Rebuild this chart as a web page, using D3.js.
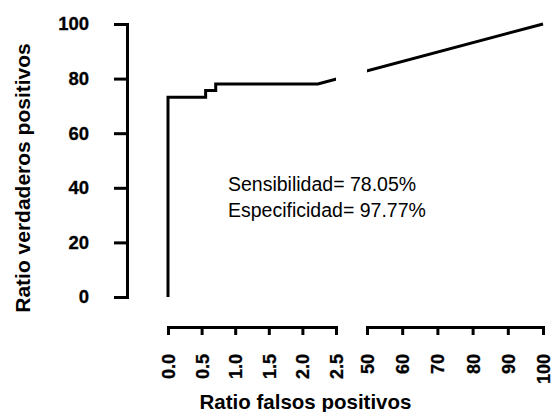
<!DOCTYPE html>
<html>
<head>
<meta charset="utf-8">
<script src="https://cdn.jsdelivr.net/npm/d3@7"></script>
<style>
  html, body { margin: 0; padding: 0; background: #fff; }
  svg { display: block; font-family: "Liberation Sans", Arial, Helvetica, sans-serif; }
  .axis path, .axis line { stroke: #000; stroke-width: 3; }
  .axis text { fill: #000; font-weight: bold; stroke: #000; stroke-width: 0.3px; }
</style>
</head>
<body>
<svg id="chart" width="553" height="412"></svg>
<script>
// ROC curve: false positive ratio (%) vs true positive ratio (%)
const fpr = [0, 0, 0.56, 0.56, 0.71, 0.71, 2.23, 100];
const tpr = [0, 73.17, 73.17, 75.61, 75.61, 78.05, 78.05, 100];

const yTicks = [0, 20, 40, 60, 80, 100];
const xTicksLow = [0, 0.5, 1.0, 1.5, 2.0, 2.5];
const xTicksHigh = [50, 60, 70, 80, 90, 100];

const annotations = ["Sensibilidad= 78.05%", "Especificidad= 97.77%"];

const svg = d3.select("#chart");

// Broken x axis: two linear pieces, [0, 2.5] and [50, 100]
const xLow = d3.scaleLinear().domain([0, 2.5]).range([168, 336]);
const xHigh = d3.scaleLinear().domain([50, 100]).range([367, 543]);
const x = d3.scaleLinear().domain([0, 2.5, 50, 100]).range([168, 336, 367, 543]);
const y = d3.scaleLinear().domain([0, 100]).range([297, 24]);

// Clip the curve so nothing is drawn inside the axis break
const clip = svg.append("defs").append("clipPath").attr("id", "breakClip");
clip.append("rect").attr("x", 0).attr("y", 0).attr("width", xLow(2.5)).attr("height", 412);
clip.append("rect").attr("x", xHigh(50)).attr("y", 0).attr("width", 553 - xHigh(50)).attr("height", 412);

// Y axis
const yAxis = d3.axisLeft(y).tickValues(yTicks).tickSize(13).tickSizeOuter(13).tickPadding(25);
const gy = svg.append("g").attr("class", "axis").attr("transform", "translate(127,0)").call(yAxis);
gy.selectAll("text").style("font-size", "18.5px");

// X axis, lower piece and upper piece
function styleX(g) {
  g.selectAll("text")
    .style("font-size", "18px")
    .attr("transform", "rotate(-90)")
    .attr("text-anchor", "end")
    .attr("x", -27)
    .attr("y", 0)
    .attr("dy", "0.36em");
}
const gx1 = svg.append("g").attr("class", "axis").attr("transform", "translate(0,327)")
  .call(d3.axisBottom(xLow).tickValues(xTicksLow).tickFormat(d3.format(".1f")).tickSize(8).tickSizeOuter(8));
styleX(gx1);
const gx2 = svg.append("g").attr("class", "axis").attr("transform", "translate(0,327)")
  .call(d3.axisBottom(xHigh).tickValues(xTicksHigh).tickFormat(d3.format("d")).tickSize(8).tickSizeOuter(8));
styleX(gx2);

// Curve
const line = d3.line().x((d, i) => x(fpr[i])).y((d, i) => y(tpr[i]));
svg.append("path")
  .datum(fpr)
  .attr("d", line)
  .attr("clip-path", "url(#breakClip)")
  .attr("fill", "none")
  .attr("stroke", "#000")
  .attr("stroke-width", 3)
  .attr("stroke-linejoin", "miter");

// Axis titles
svg.append("text")
  .attr("transform", "translate(30,178) rotate(-90)")
  .attr("text-anchor", "middle")
  .style("font-size", "21px").style("font-weight", "bold")
  .text("Ratio verdaderos positivos");

svg.append("text")
  .attr("x", 305.5).attr("y", 409)
  .attr("text-anchor", "middle")
  .style("font-size", "20.5px").style("font-weight", "bold")
  .text("Ratio falsos positivos");

// Sensitivity / specificity note
svg.selectAll("text.note")
  .data(annotations)
  .join("text")
  .attr("class", "note")
  .attr("x", 228)
  .attr("y", (d, i) => 191 + i * 25.5)
  .style("font-size", "19.5px")
  .text(d => d);
</script>
</body>
</html>
